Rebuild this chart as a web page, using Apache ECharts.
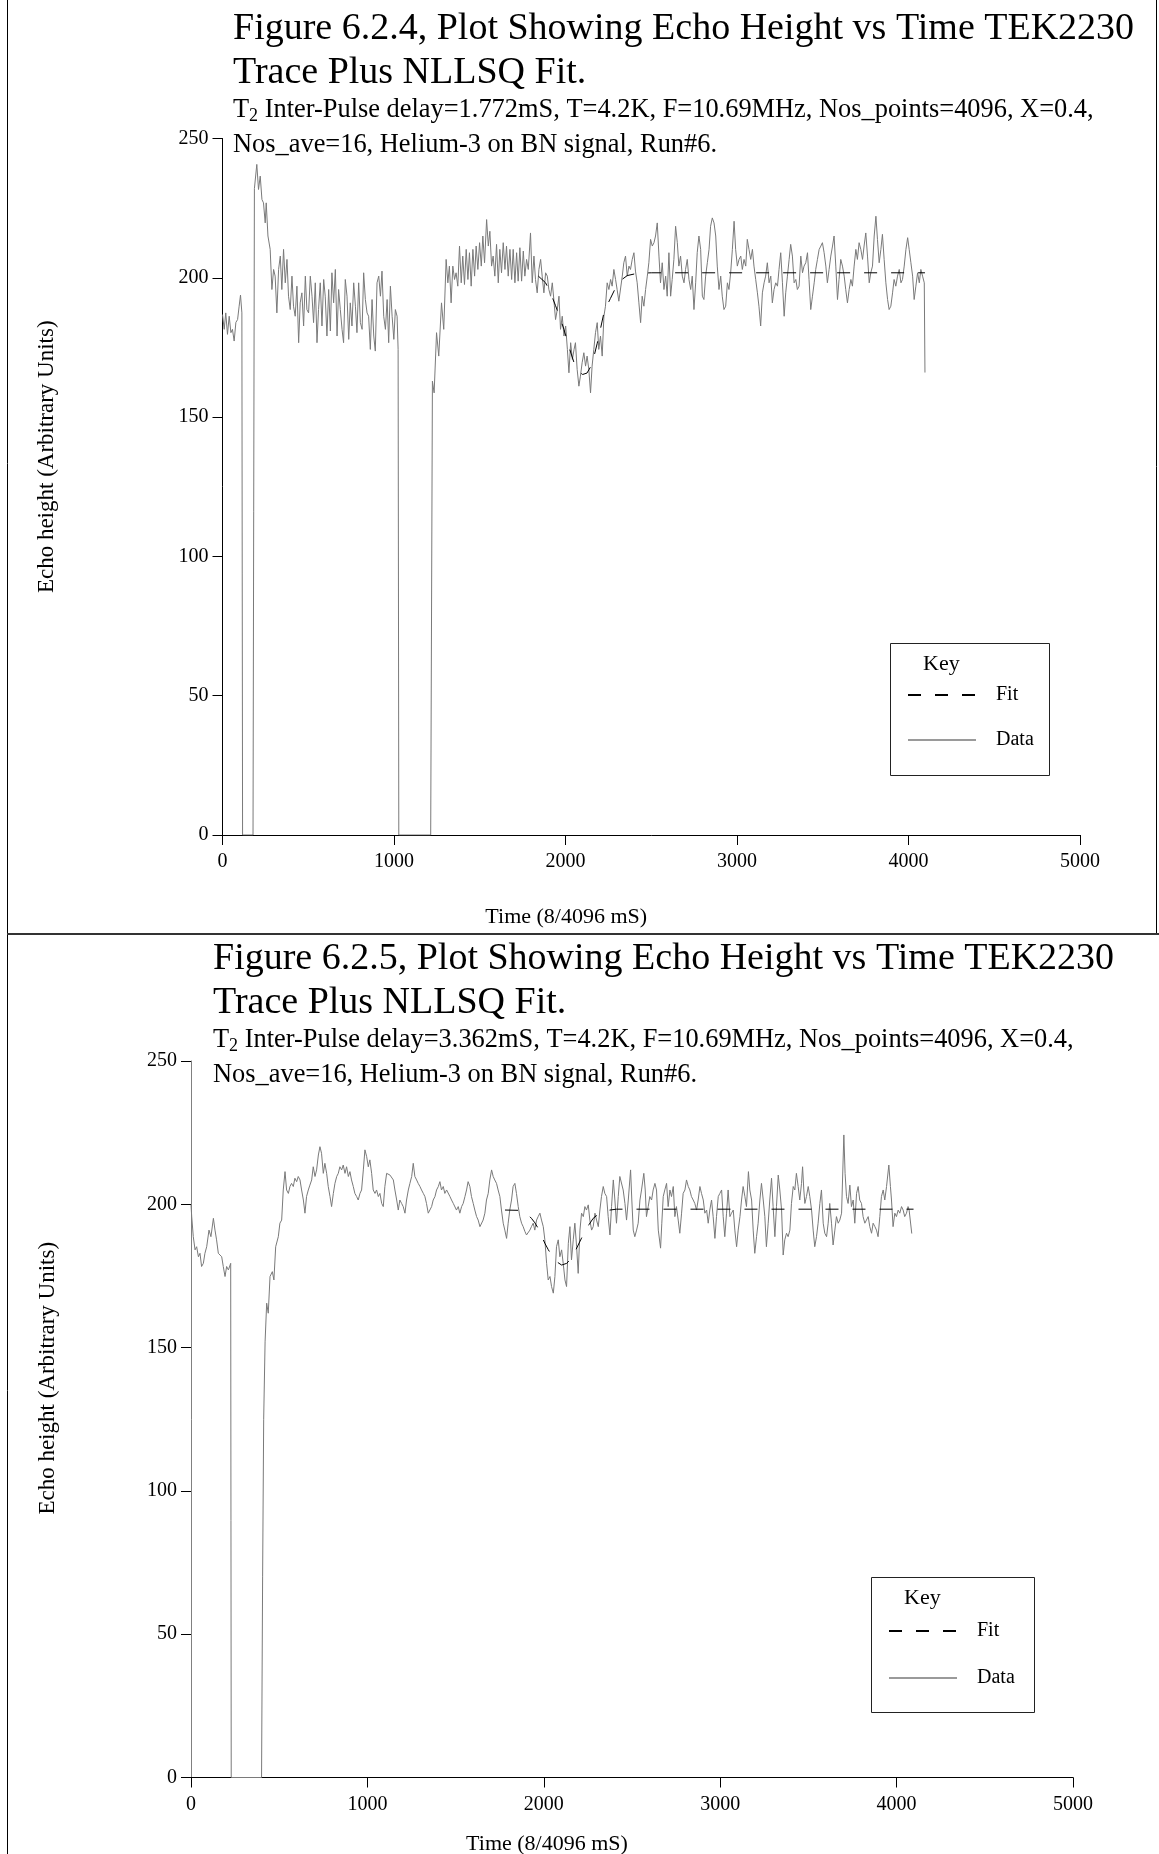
<!DOCTYPE html>
<html>
<head>
<meta charset="utf-8">
<title>Echo Height vs Time</title>
<script src="https://cdn.jsdelivr.net/npm/echarts@6/dist/echarts.min.js"></script>
<style>
  html, body { margin: 0; padding: 0; background: #fff; }
  #chart { width: 1159px; height: 1854px; }
</style>
</head>
<body>
<div id="chart"></div>
<script>
// ---- Figure 6.2.4 : echo trace, delay 1.772 mS ----
const trace624 = [
  [0,186.8],[10,181.5],[19,187.4],[29,179.7],[39,186.2],[49,180.3],[58,181.5],[68,177.3],[78,184],[88,185],[97,189.8],[105,193.8],[113,187.4],
  [117,0],[178,0],[186,232],[200,240.7],[210,231.7],[220,236.5],[230,228.1],[239,226.9],[249,219.7],[255,226.9],[265,215],[272,215.6],[278,210.2],
  [288,195.8],[298,203],[307,200.6],[317,187.4],[327,203],[337,207.8],[346,195.8],[356,210.2],[366,198.2],[376,206.6],[385,193.4],[395,188.6],
  [405,200.6],[414,189.8],[424,186.2],[434,197],[444,176.7],[453,191],[463,194.6],[473,182.7],[483,200.6],[492,188.6],[502,187.4],[512,200.6],
  [522,193.4],[531,183.9],[541,198.2],[551,176.7],[560,188.6],[570,198.2],[580,182.7],[590,199.4],[599,193.4],[609,179.1],[619,195.8],[629,180.9],
  [638,201.8],[648,191],[658,203],[668,179.1],[677,195.8],[687,188.6],[697,181.5],[706,176.7],[716,199.4],[726,193.4],[736,177.9],[745,191],
  [755,182.7],[765,198.2],[775,189.8],[784,180.3],[794,198.2],[804,183.9],[814,181.5],[823,201.8],[833,192.2],[843,187.4],[852,186.2],[862,174.3],
  [872,192.2],[882,179.1],[891,173.7],[901,198.2],[911,200.6],[921,193.4],[930,202.4],[940,186.2],[950,181.5],[960,192.2],[969,176.7],[979,197],
  [989,186.2],[999,177.9],[1008,188.6],[1018,186.2],[1024,174.3],[1028,0],[1214,0],[1224,162.9],[1234,158.7],[1248,180.3],[1261,171.9],[1277,191],
  [1290,181.5],[1304,206.6],[1314,198.2],[1323,204.2],[1333,191],[1343,204.2],[1353,199.4],[1362,201.8],[1372,197],[1382,211.4],[1392,198.2],
  [1401,207.8],[1411,197.6],[1421,210.2],[1431,199.4],[1440,209],[1450,197],[1460,210.2],[1470,200.6],[1479,211.4],[1489,203],[1499,212.6],
  [1509,204.2],[1518,215],[1528,205.4],[1540,220.9],[1550,211.4],[1559,216.7],[1569,204.2],[1578,207.8],[1588,200.6],[1598,212],[1608,198.2],
  [1617,210.2],[1627,201.8],[1637,212.6],[1647,203],[1656,211.4],[1666,200.6],[1676,210.2],[1686,199.4],[1695,210.2],[1705,198.2],[1715,209],
  [1724,198.8],[1734,210.8],[1744,198.8],[1754,209.6],[1763,200.6],[1773,206.6],[1783,203],[1796,216.1],[1806,198.2],[1816,207.8],[1825,199.4],
  [1835,194.6],[1845,203],[1855,206.6],[1864,200.6],[1874,194.6],[1884,201.8],[1894,200.6],[1903,195.8],[1913,193.4],[1923,198.2],[1932,192.2],
  [1942,185],[1952,188.6],[1962,193.4],[1971,181.5],[1981,186.2],[1991,179.1],[2001,182.7],[2011,174.3],[2020,165.9],[2030,176.7],[2040,170.7],
  [2050,174.3],[2058,176.7],[2068,167.1],[2078,161.1],[2087,164.7],[2097,169.5],[2107,173.1],[2117,168.3],[2126,171.9],[2136,167.1],[2146,158.7],
  [2155,168.3],[2165,174.3],[2175,180.3],[2185,183.9],[2194,174.3],[2204,179.1],[2214,171.9],[2224,186.2],[2233,189.8],[2243,198.2],[2253,195.8],
  [2263,199.4],[2272,197],[2282,203],[2292,199.4],[2301,195.8],[2311,191.6],[2321,191],[2331,200.6],[2340,205.4],[2350,207.8],[2360,200.6],
  [2370,204.2],[2379,203],[2389,206.6],[2399,209],[2408,202.4],[2418,198.2],[2428,191],[2438,183.9],[2447,193.4],[2457,189.8],[2467,195.8],
  [2477,200.6],[2486,205.4],[2496,213.8],[2506,211.4],[2516,212.6],[2525,215],[2535,219.7],[2545,207.8],[2554,198.2],[2564,205.4],[2574,195.8],
  [2584,200.6],[2593,193.4],[2603,209],[2613,193.4],[2622,199.4],[2632,206.6],[2642,218.5],[2652,212.6],[2661,204.2],[2671,207.8],[2681,200.6],
  [2691,198.2],[2700,203],[2710,206.6],[2720,199.4],[2730,195.8],[2739,200.6],[2749,188.6],[2759,198.2],[2768,209],[2778,215],[2788,210.2],
  [2798,193.4],[2807,192.2],[2817,200.6],[2827,205.4],[2837,210.2],[2846,218.5],[2856,221.5],[2866,219.7],[2876,215],[2885,204.2],[2895,195.8],
  [2905,200.6],[2914,193.4],[2924,188.6],[2934,189.8],[2944,198.2],[2953,195.8],[2963,201.8],[2973,210.2],[2983,220.3],[2992,210.2],[3002,204.2],
  [3012,206.6],[3022,207.8],[3031,203],[3041,206.6],[3051,204.2],[3060,213.8],[3070,210.2],[3080,206.6],[3090,210.2],[3099,204.2],[3109,199.4],
  [3119,194.6],[3128,189.8],[3138,182.7],[3148,194.6],[3158,198.2],[3167,200.6],[3177,205.4],[3187,198.2],[3197,200.6],[3206,191],[3216,195.8],
  [3226,198.2],[3236,197],[3245,203],[3255,209],[3265,198.2],[3275,186.2],[3284,194.6],[3294,200.6],[3304,206.6],[3313,212],[3323,207.8],
  [3333,198.2],[3343,199.4],[3352,195.8],[3362,197],[3372,207.8],[3382,201.8],[3391,204.2],[3401,205.4],[3411,209],[3420,199.4],[3430,188.6],
  [3440,193.4],[3450,198.2],[3459,203],[3469,206.6],[3479,210.2],[3489,211.4],[3498,212.6],[3508,209],[3518,204.2],[3527,198.2],[3537,203],
  [3547,207.8],[3557,211.4],[3566,215],[3576,204.2],[3586,192.2],[3595,199.4],[3605,206.6],[3615,204.2],[3625,200.6],[3634,195.8],[3644,191],
  [3654,195.8],[3664,199.4],[3673,197],[3683,204.2],[3693,210.2],[3702,206.6],[3712,212.6],[3722,210.2],[3732,206.6],[3741,211.4],[3751,216.1],
  [3761,207.8],[3771,198.2],[3780,201.8],[3790,204.2],[3800,215],[3810,222.1],[3819,213.8],[3829,205.4],[3839,210.2],[3848,215.6],[3858,206.6],
  [3868,198.2],[3878,192.2],[3887,188.6],[3897,189.8],[3907,194.6],[3916,199.4],[3926,197],[3936,200.6],[3946,203],[3956,198.2],[3965,199.4],
  [3975,204.2],[3985,210.2],[3995,214.4],[4004,210.2],[4014,205.4],[4024,200.6],[4033,192.2],[4043,197],[4053,201.8],[4063,198.2],[4072,203],
  [4082,200.6],[4092,198.2],[4096,166]
];
const fit624 = [
  [1842,200.6],[1884,198.2],[1913,194.6],[1942,190],[1966,186],[1991,181.5],[2020,175.2],[2050,169.5],[2075,166.4],[2100,165.3],[2125,165.8],
  [2146,168],[2165,171.5],[2185,176.5],[2205,182],[2224,187.4],[2243,190.2],[2262,192.6],[2292,196.4],[2325,199.2],[2360,200.8],[2418,201.6],
  [2500,201.8],[4096,201.8]
];

// ---- Figure 6.2.5 : echo trace, delay 3.362 mS ----
const trace625 = [
  [0,199.8],[4,195.7],[13,188.7],[23,184.1],[32,185.2],[42,181.7],[51,182.9],[60,178.3],[70,179.4],[79,182.9],[89,185.2],[102,191],[113,188.7],
  [127,195.1],[136,191],[145,187.6],[155,182.9],[164,182.3],[174,181.7],[183,178.3],[193,174.8],[202,178.3],[212,177.1],[225,179.4],[228,0],
  [400,0],[406,70],[412,125],[420,152],[429,165.5],[438,162],[448,174.8],[461,176.5],[470,173.6],[480,185.2],[495,188.7],[504,193.4],[514,194.5],
  [523,205],[533,211.4],[542,205],[552,203.8],[561,206.2],[570,207.3],[580,206.2],[589,209.1],[599,207.9],[608,209.7],[618,208.5],[627,205],
  [637,201.5],[646,196.9],[655,202.7],[665,205],[674,206.7],[684,208.5],[693,213.1],[703,209.7],[712,212],[722,217.2],[731,220.1],[740,217.8],
  [750,210.8],[759,214.3],[769,210.8],[778,206.2],[788,202.7],[797,199.2],[807,203.8],[816,207.3],[826,209.7],[835,210.8],[844,213.1],[854,212],
  [863,213.7],[873,210.8],[882,213.1],[892,209.7],[901,211.4],[910,208.5],[920,206.2],[929,203.8],[939,202.7],[948,201.5],[958,203.8],[967,205],
  [977,212],[986,219],[996,216.6],[1005,213.1],[1014,215.5],[1024,210.8],[1033,205],[1043,203.8],[1052,205],[1062,202.7],[1071,203.8],[1081,200.3],
  [1090,199.2],[1099,206.2],[1109,210.8],[1118,211.4],[1128,210.2],[1137,209.7],[1147,208.5],[1156,205],[1166,201.5],[1175,198],[1184,201.5],
  [1194,200.3],[1203,199.2],[1213,196.9],[1222,201.5],[1232,205],[1241,207.3],[1251,209.7],[1260,214.3],[1269,209.7],[1279,208.5],[1288,207.3],
  [1298,206.2],[1307,205],[1317,203.8],[1326,202.7],[1335,200.3],[1345,196.9],[1354,196.3],[1364,199.2],[1373,201.5],[1383,202.7],[1392,205],
  [1402,206.2],[1411,207.9],[1420,205],[1430,206.2],[1439,203.8],[1449,205],[1458,205],[1468,202.7],[1477,201.5],[1487,200.3],[1496,200.3],
  [1505,198],[1515,199.2],[1524,196.9],[1534,199.2],[1543,200.3],[1553,202.7],[1562,205],[1571,207.9],[1581,206.2],[1590,202.7],[1600,200.3],
  [1609,198],[1619,195.7],[1628,194.5],[1638,192.2],[1647,191.6],[1656,194.5],[1666,196.9],[1675,201.5],[1685,203.8],[1694,208.5],[1704,212],
  [1713,209.7],[1722,208.5],[1732,207.3],[1741,205],[1751,202.7],[1760,198],[1770,193.4],[1779,191],[1789,188.1],[1798,193.4],[1807,198],
  [1817,201.5],[1826,206.2],[1836,207.3],[1845,203.8],[1855,199.2],[1864,195.7],[1874,193.4],[1883,192.2],[1893,190.5],[1902,189.3],[1912,188.7],
  [1921,191],[1930,192.2],[1940,193.4],[1949,191],[1959,194.5],[1968,195.7],[1978,196.9],[1987,194.5],[1997,192.2],[2006,187.6],[2016,179.4],
  [2025,173.6],[2035,174.8],[2044,171.3],[2054,169],[2063,174.8],[2072,185.2],[2082,187.6],[2091,181.7],[2101,184.1],[2110,179.4],[2120,173.6],
  [2129,171.3],[2139,186.4],[2148,192.2],[2157,180.6],[2167,187.6],[2176,193.4],[2186,185.2],[2195,175.9],[2205,191],[2214,196.9],[2224,195.7],
  [2233,199.2],[2242,198],[2252,199.8],[2261,194.5],[2271,191],[2280,192.2],[2290,196.9],[2299,194.5],[2309,192.2],[2318,198],[2327,202.7],
  [2337,206.2],[2346,203.8],[2356,202.7],[2365,195.7],[2375,189.3],[2384,199.2],[2394,208.5],[2403,201.5],[2412,193.4],[2422,202.7],[2431,209.7],
  [2441,210.2],[2450,205],[2460,200.3],[2469,194.5],[2479,201.5],[2492,212],[2499,201.5],[2507,191],[2516,188.7],[2526,191],[2535,193.4],
  [2545,201.5],[2554,205],[2567,210.8],[2575,205],[2582,195.7],[2592,199.2],[2601,202.7],[2611,201.5],[2620,205],[2630,207.3],[2639,205],
  [2649,191],[2662,184.7],[2669,193.4],[2677,202.7],[2686,205],[2696,207.3],[2705,199.2],[2715,205],[2724,202.7],[2734,206.2],[2743,195.7],
  [2752,199.2],[2762,194.5],[2771,189.9],[2781,196.9],[2790,203.8],[2800,205],[2809,208.5],[2819,206.2],[2828,205],[2837,202.7],[2847,201.5],
  [2856,200.3],[2866,198],[2875,201.5],[2885,206.2],[2894,203.8],[2904,201.5],[2913,196.9],[2923,198],[2932,193.4],[2941,198],[2951,201.5],
  [2960,195.7],[2970,188.1],[2979,195.7],[2989,202.7],[2998,203.8],[3008,205],[3017,195.7],[3026,188.7],[3036,196.9],[3045,205],[3055,195.7],
  [3064,196.9],[3074,198],[3083,191],[3093,185.2],[3102,191],[3112,195.7],[3121,201.5],[3130,206.2],[3140,202.7],[3149,199.2],[3160,211.4],
  [3168,205],[3178,201.5],[3187,191],[3196,182.9],[3206,188.7],[3215,193.4],[3225,201.5],[3234,207.3],[3244,201.5],[3253,195.7],[3262,185.2],
  [3272,193.4],[3281,201.5],[3291,209.1],[3300,199.2],[3310,188.7],[3319,199.2],[3329,210.2],[3338,205],[3348,198],[3357,182.3],[3366,187.6],
  [3376,189.9],[3385,188.7],[3395,191],[3404,200.3],[3414,206.2],[3423,205],[3432,210.8],[3442,206.2],[3451,201.5],[3461,207.3],[3467,213.1],
  [3474,205],[3480,200.3],[3489,202.7],[3499,206.2],[3508,202.7],[3518,198],[3527,191],[3536,185.2],[3546,188.7],[3555,193.4],[3565,200.3],
  [3574,205],[3584,193.4],[3593,189.9],[3603,188.7],[3612,193.4],[3621,200.3],[3631,193.4],[3640,185.8],[3650,191],[3659,195.7],[3669,193.4],
  [3678,194.5],[3688,196.9],[3701,224.2],[3708,210.8],[3716,202.7],[3725,200.3],[3735,206.7],[3744,199.2],[3754,201.5],[3763,193.4],[3773,203.8],
  [3782,206.2],[3791,201.5],[3801,200.3],[3810,195.7],[3820,193.4],[3829,194.5],[3839,195.7],[3848,192.2],[3858,189.9],[3867,193.4],[3877,192.2],
  [3886,191],[3895,188.7],[3905,195.7],[3914,202.7],[3924,205],[3933,201.5],[3943,206.2],[3956,213.7],[3965,206.2],[3971,201.5],[3980,192.2],
  [3990,196.9],[3999,195.7],[4009,198],[4018,196.9],[4028,199.2],[4037,198],[4046,195.7],[4056,196.9],[4065,199.2],[4071,198],[4086,189.8]
];
const fit625 = [
  [1780,198],[1855,197.9],[1900,197],[1930,195.1],[1950,193.5],[1968,191.6],[1987,189],[2006,186.4],[2025,184.2],[2044,182.3],[2072,180],
  [2101,178.8],[2130,179.4],[2157,181.2],[2176,183.4],[2195,185.8],[2214,188.2],[2233,190.5],[2257,193],[2280,195.1],[2310,196.6],[2337,197.4],
  [2375,198],[2412,198.3],[4096,198.3]
];

// axis ticks shared by both plots
const timeTicks = { min: 0, max: 5000, interval: 1000 };
const heightTicks = { min: 0, max: 250, interval: 50 };

const FONT = '"Liberation Serif", "Times New Roman", serif';
const TRACE_COLOR = '#7a7a7a';

const titleLines = [
  'Figure 6.2.4, Plot Showing Echo Height vs Time TEK2230\nTrace Plus NLLSQ Fit.',
  'Figure 6.2.5, Plot Showing Echo Height vs Time TEK2230\nTrace Plus NLLSQ Fit.'
];
const subLines = [
  'T{s|2} Inter-Pulse delay=1.772mS, T=4.2K, F=10.69MHz, Nos_points=4096, X=0.4,\nNos_ave=16, Helium-3 on BN signal, Run#6.',
  'T{s|2} Inter-Pulse delay=3.362mS, T=4.2K, F=10.69MHz, Nos_points=4096, X=0.4,\nNos_ave=16, Helium-3 on BN signal, Run#6.'
];

function mkTitle(text, left, top) {
  return {
    text: text, left: left, top: top, padding: 0,
    textStyle: { fontFamily: FONT, fontSize: 38, fontWeight: 'normal', color: '#000', lineHeight: 44 }
  };
}
function mkSub(text, left, top) {
  return {
    text: text, left: left, top: top, padding: 0,
    textStyle: {
      fontFamily: FONT, fontSize: 26.4, fontWeight: 'normal', color: '#000', lineHeight: 35,
      rich: { s: { fontFamily: FONT, fontSize: 18, color: '#000', padding: [12, 0, 0, 0] } }
    }
  };
}

const plainNumber = function (v) { return String(v); };

function mkXAxis(gridIndex, nameGap, axisColor) {
  return Object.assign({
    type: 'value', gridIndex: gridIndex,
    name: 'Time (8/4096 mS)', nameLocation: 'middle', nameGap: nameGap,
    nameTextStyle: { fontFamily: FONT, fontSize: 22, color: '#000', padding: [0, 170, 0, 0] },
    axisLine: { show: true, onZero: false, lineStyle: { color: axisColor, width: 1 } },
    axisTick: { show: true, inside: false, length: 10, lineStyle: { color: '#000', width: 1 } },
    axisLabel: { fontFamily: FONT, fontSize: 20, color: '#000', margin: 17, formatter: plainNumber },
    splitLine: { show: false }
  }, timeTicks);
}
function mkYAxis(gridIndex, nameGap, namePad, axisColor) {
  return Object.assign({
    type: 'value', gridIndex: gridIndex,
    name: 'Echo height (Arbitrary Units)', nameLocation: 'middle', nameRotate: 90, nameGap: nameGap,
    nameTextStyle: { fontFamily: FONT, fontSize: 23, color: '#000', padding: namePad },
    axisLine: { show: true, onZero: false, lineStyle: { color: axisColor, width: 1 } },
    axisTick: { show: true, inside: false, length: 10, lineStyle: { color: '#000', width: 1 } },
    axisLabel: { fontFamily: FONT, fontSize: 20, color: '#000', margin: 14, formatter: plainNumber },
    splitLine: { show: false }
  }, heightTicks);
}

function traceSeries(name, idx, data) {
  return {
    name: name, type: 'line', xAxisIndex: idx, yAxisIndex: idx, data: data,
    symbol: 'none', showSymbol: false, smooth: false, z: 2,
    lineStyle: { color: TRACE_COLOR, width: 1 }, itemStyle: { color: TRACE_COLOR }
  };
}
function fitSeries(name, idx, data) {
  return {
    name: name, type: 'line', xAxisIndex: idx, yAxisIndex: idx, data: data,
    symbol: 'none', showSymbol: false, smooth: false, z: 3,
    lineStyle: { color: '#000', width: 1, type: [13, 14] }, itemStyle: { color: '#000' }
  };
}

// legend rows: dashed fit line and solid trace line, no point markers
function mkLegend(left, top, gap) {
  return {
    orient: 'vertical', left: left, top: top, padding: 0,
    itemWidth: 68, itemHeight: 14, itemGap: gap, selectedMode: false,
    itemStyle: { color: 'rgba(0,0,0,0)', borderColor: 'rgba(0,0,0,0)', borderWidth: 0, opacity: 0 },
    data: [
      { name: 'Fit', lineStyle: { color: '#000' } },
      { name: 'Data', lineStyle: { color: '#9a9a9a' } }
    ],
    textStyle: { fontFamily: FONT, fontSize: 20, color: '#000', padding: [0, 0, 0, 15] }
  };
}
function keyBox(x, y, w, h) {
  return [
    { type: 'rect', shape: { x: x + 0.5, y: y + 0.5, width: w, height: h }, style: { fill: null, stroke: '#222', lineWidth: 1 } },
    { type: 'text', x: x + 33, y: y + 10, style: { text: 'Key', fontFamily: FONT, fontSize: 22, fill: '#000' } }
  ];
}

const chart = echarts.init(document.getElementById('chart'), null, { renderer: 'canvas' });
chart.setOption({
  animation: false,
  backgroundColor: '#fff',
  title: [
    mkTitle(titleLines[0], 233, 7),
    mkSub(subLines[0], 233, 93),
    mkTitle(titleLines[1], 213, 937),
    mkSub(subLines[1], 213, 1023)
  ],
  legend: [mkLegend(907, 685, 25), mkLegend(888, 1621, 27)],
  grid: [
    { left: 222.5, right: 79, top: 138.5, bottom: 1019, outerBoundsMode: 'none', containLabel: false },
    { left: 191, right: 86, top: 1061, bottom: 76.5, outerBoundsMode: 'none', containLabel: false }
  ],
  xAxis: [mkXAxis(0, 71, '#000'), mkXAxis(1, 56, '#000')],
  yAxis: [mkYAxis(0, 164, [0, 0, 0, 60], '#000'), mkYAxis(1, 132, [0, 0, 0, 82], '#808080')],
  series: [
    traceSeries('Data', 0, trace624), fitSeries('Fit', 0, fit624),
    traceSeries('Data', 1, trace625), fitSeries('Fit', 1, fit625)
  ],
  graphic: [
    { type: 'line', shape: { x1: 7.5, y1: 0, x2: 7.5, y2: 1854 }, style: { stroke: '#000', lineWidth: 1 } },
    { type: 'line', shape: { x1: 1156.5, y1: 0, x2: 1156.5, y2: 933 }, style: { stroke: '#000', lineWidth: 1 } },
    { type: 'line', shape: { x1: 7, y1: 934, x2: 1159, y2: 934 }, style: { stroke: '#333', lineWidth: 2 } }
  ].concat(keyBox(890, 643, 159, 132)).concat(keyBox(871, 1577, 163, 135))
});
</script>
</body>
</html>
